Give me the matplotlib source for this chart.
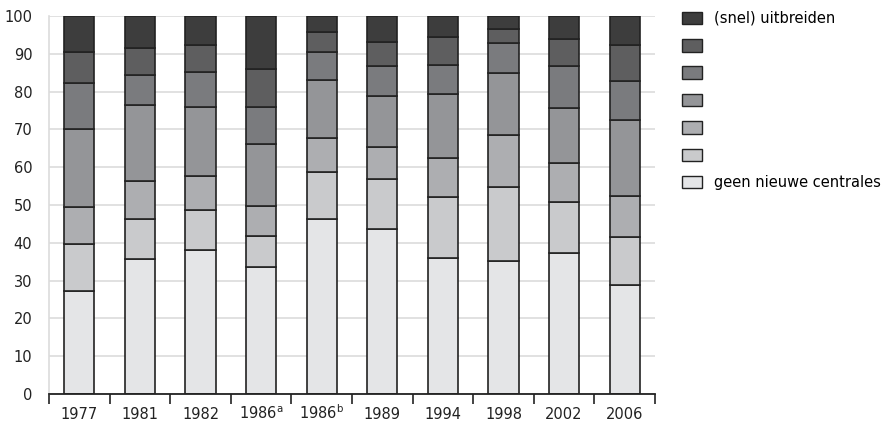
import numpy as np
import matplotlib.pyplot as plt
from matplotlib.patches import Patch

years = ["1977", "1981", "1982", "1986$^{\\mathrm{a}}$", "1986$^{\\mathrm{b}}$",
         "1989", "1994", "1998", "2002", "2006"]

# cumulative boundaries (bottom to top), top is 100
cum = np.array([
    [27.2, 39.6, 49.5, 70.1, 82.3, 90.4, 100],
    [35.8, 46.3, 56.4, 76.5, 84.5, 91.6, 100],
    [38.1, 48.7, 57.7, 75.9, 85.3, 92.2, 100],
    [33.5, 41.7, 49.8, 66.2, 75.9, 86.0, 100],
    [46.3, 58.7, 67.7, 83.2, 90.4, 95.8, 100],
    [43.7, 56.9, 65.4, 78.9, 86.8, 93.0, 100],
    [36.1, 52.2, 62.4, 79.3, 87.0, 94.4, 100],
    [35.3, 54.7, 68.5, 85.0, 92.9, 96.6, 100],
    [37.2, 50.9, 61.1, 75.6, 86.9, 93.9, 100],
    [28.9, 41.6, 52.5, 72.5, 82.9, 92.2, 100],
])
shares = np.diff(np.hstack([np.zeros((len(years), 1)), cum]), axis=1)

labels = ["geen nieuwe centrales", "", "", "", "", "", "(snel) uitbreiden"]
colors = ["#e4e5e7", "#c9cacc", "#adaeb1", "#949598", "#7a7b7e", "#5e5e5f", "#3d3d3d"]

fig = plt.figure(figsize=(8.86, 4.24), dpi=100)
ax = fig.add_axes([49 / 886, 30 / 424, 606 / 886, 378 / 424])

x = np.arange(len(years))
bottom = np.zeros(len(years))
for k in range(shares.shape[1]):
    ax.bar(x, shares[:, k], bottom=bottom, width=0.5, color=colors[k],
           edgecolor="#222222", linewidth=1.2, zorder=3)
    bottom += shares[:, k]

ax.set_xlim(-0.5, 9.5)
ax.set_ylim(0, 100)
ax.set_yticks(np.arange(0, 101, 10))
ax.yaxis.grid(True, color="#dcdcdc", linewidth=1.2, zorder=0)
ax.tick_params(axis="y", length=0, pad=12, labelsize=10.5, colors="#222222")

ax.set_xticks(x)
ax.set_xticklabels(years)
ax.set_xticks(np.arange(-0.5, 10, 1), minor=True)
ax.tick_params(axis="x", which="major", length=0, pad=18, labelsize=10.5, colors="#222222")
ax.tick_params(axis="x", which="minor", length=7, width=1.2, color="#222222", direction="out")
for lbl in ax.get_xticklabels():
    lbl.set_verticalalignment("baseline")

for s in ["top", "right"]:
    ax.spines[s].set_visible(False)
ax.spines["left"].set_color("#dcdcdc")
ax.spines["left"].set_linewidth(1.2)
ax.spines["bottom"].set_color("#222222")
ax.spines["bottom"].set_linewidth(1.3)
ax.spines["bottom"].set_zorder(4)

handles = [Patch(facecolor=colors[k], edgecolor="#222222", linewidth=1.0)
           for k in range(len(colors) - 1, -1, -1)]
fig.legend(handles, labels[::-1], loc="upper left",
           bbox_to_anchor=(676 / 886, 1 - 5 / 424), frameon=False,
           fontsize=10.5, handlelength=1.4, handleheight=0.95,
           handletextpad=0.8, labelspacing=0.85, borderaxespad=0)

fig.savefig("out.png", dpi=100)
